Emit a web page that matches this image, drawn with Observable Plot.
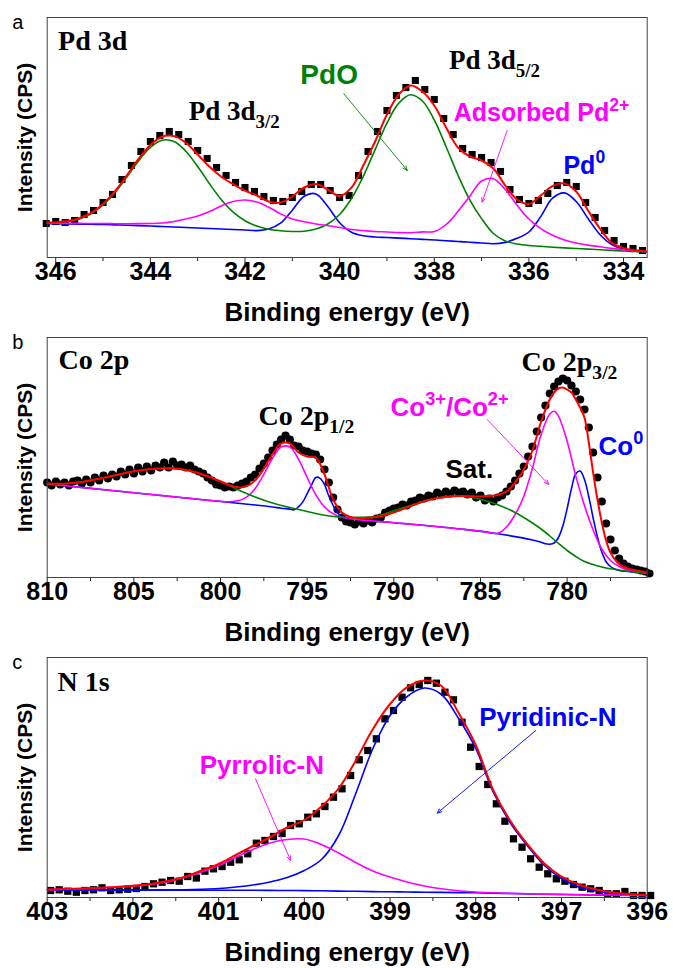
<!DOCTYPE html>
<html>
<head>
<meta charset="utf-8">
<script src="https://cdn.jsdelivr.net/npm/d3@7"></script>
<script src="https://cdn.jsdelivr.net/npm/@observablehq/plot@0.6"></script>
<style>
html,body{margin:0;padding:0;background:#fff;}
#chart{width:673px;}
#chart svg{display:block;}
</style>
</head>
<body>
<div id="chart"></div>
<script>
// ================= DATA =================
// ---- Panel a : Pd 3d  (binding energy, eV; intensity, a.u.) ----
const aCurveStart = 346.25, aCurveStep = 0.25;
const aPdO      = [34.3, 34.7, 35.9, 38.6, 43.8, 52.5, 64.8, 80.3, 96.6, 110.1, 117.3, 115.9, 106.3, 91, 73.7, 57.8, 45.4, 36.8, 31.4, 28.2, 26.7, 26, 26.2, 28.4, 33.5, 43, 59, 81.2, 107.9, 134.3, 154.4, 162.8, 156.5, 137.6, 110.8, 82.5, 57.7, 38.9, 24, 16.5, 13.5, 12, 11.2, 10.3, 9.6, 9, 8.4, 7.8, 7.1, 6.5, 6, 5.5];
const aAdsorbed = [34.5, 34.3, 34.1, 34.1, 34, 34, 33.8, 33.8, 33.9, 34, 34.5, 36, 38.5, 41.5, 46, 51.5, 56, 57.5, 55.4, 50.3, 43.6, 38.5, 35.7, 33.5, 31.8, 30, 28, 27, 26, 25.5, 24.9, 24.8, 25.6, 26, 33, 46, 61.3, 76.5, 78.8, 68, 52.3, 38.5, 28.9, 22.3, 17.6, 14.5, 12.4, 10.8, 9.1, 7.7, 6.8, 6];
const aPd0      = [34, 33.8, 33.6, 33.4, 33.2, 33, 32.6, 32.3, 31.9, 31.5, 31, 30.5, 30, 29.5, 29, 28.5, 28, 27.5, 26.9, 28.5, 34.3, 47.3, 61.3, 63.6, 50.9, 34.8, 25.3, 21.7, 20.5, 20, 19.4, 18.8, 18.1, 17.5, 16.8, 16, 15.3, 14.5, 13.8, 15.1, 19.2, 25.5, 40.9, 59.3, 64.6, 56, 39, 23, 12.9, 8.2, 6.4, 5.5];
const aEnvelope = [34.8, 35.2, 36.4, 39.3, 44.6, 53.5, 66, 81.8, 98.6, 112.6, 120.8, 121.4, 114.8, 103, 90.7, 80.8, 73.4, 66.8, 62, 56, 55, 61, 70, 73.5, 68, 61.5, 69.8, 92, 116, 143, 163, 172, 166, 152, 130, 110, 101, 97, 89, 72, 58, 53.5, 62, 71.3, 74, 66, 47, 29, 14.9, 9.4, 7.2, 6];
const aDataStart = 346.2, aDataStep = 0.2;
const aData = [34, 36, 35, 37, 43, 47, 55, 63, 78, 92, 106, 116, 122, 126, 123, 116, 107, 99, 90, 82, 75, 70, 66, 61, 57, 56, 60, 66, 73, 73, 67, 60, 62, 82, 106, 126, 147, 162, 170, 177, 168, 158, 139, 123, 109, 103, 100, 95, 86, 68, 58, 54, 57, 64, 72, 75, 71, 55, 40, 27, 17, 11, 9, 7];
const aTicks = [346, 344, 342, 340, 338, 336, 334];
const aMinorTicks = [345, 343, 341, 339, 337, 335];

// ---- Panel b : Co 2p ----
const bSatE = [810, 809, 808, 807, 806, 805, 804, 803, 802, 801, 800, 799, 798, 797, 796, 795, 794, 793, 792, 791, 790, 789, 788, 787, 786, 785, 784, 783, 782, 781.5, 781, 780.5, 780, 779.5, 779, 778.5, 778, 777.5, 777, 776.5, 776, 775.5, 775];
const bSat  = [94, 93.8, 95.5, 98.8, 102.5, 106.2, 108.5, 109.2, 107.5, 102.8, 96, 87.7, 80.5, 74.5, 70, 66, 62.3, 60.3, 60.2, 61.3, 66.8, 72.3, 77.7, 81, 81.2, 78.2, 72.8, 65, 54.5, 48.5, 41.5, 34, 27, 21, 16, 13, 10.5, 8.7, 7.5, 6.2, 5.5, 4.6, 4];
const bCo32E = [810, 808, 806, 804, 802, 800, 799.5, 799, 798.5, 798, 797.5, 797, 796.5, 796, 795.5, 795, 794.5, 794, 793.5, 793, 792, 790, 788, 786, 785, 784, 783.5, 783, 782.5, 782, 781.5, 781, 780.75, 780.5, 780, 779.5, 779, 778.5, 778, 777.5, 777, 776.5, 776, 775.5, 775];
const bCo32  = [93.5, 90, 86.5, 83, 79.5, 76.2, 75.8, 76.7, 80.4, 89.1, 103.1, 119.3, 130.5, 130.5, 118.4, 100, 82.7, 70.6, 63.7, 60.2, 57.8, 54.8, 51.7, 48.2, 46.2, 44.3, 50.4, 63, 81.3, 109.5, 143, 163.5, 166.2, 161.4, 136.3, 101.4, 72, 47.5, 28.5, 17, 11, 7.5, 5.8, 4.6, 4];
const bCo0E = [810, 806, 802, 798, 797, 796.5, 796, 795.75, 795.5, 795.25, 795, 794.75, 794.5, 794.25, 794, 793.75, 793.5, 793.25, 793, 792.5, 792, 790, 788, 786, 784, 782, 781.5, 781.25, 781, 780.75, 780.5, 780.25, 780, 779.75, 779.5, 779.25, 779, 778.75, 778.5, 778.25, 778, 777.75, 777.5, 777.25, 777, 776.5, 776, 775.5, 775];
const bCo0  = [93.5, 86.5, 79.5, 72.5, 70.5, 69.3, 68.4, 67.7, 70.7, 75.6, 83.8, 92.4, 100.1, 99.2, 93, 81.5, 72, 64.8, 61.1, 58.7, 57.7, 54.8, 51.7, 48.2, 43.8, 37.5, 35.2, 33.7, 33.3, 34.5, 40, 51.4, 68.9, 88.9, 103.7, 106.4, 98, 80.7, 59.5, 40.5, 25.5, 15.7, 11, 8.5, 7, 6, 5.3, 4.6, 4];
const bFitE = [810, 809, 808, 807, 806, 805, 804, 803, 802, 801, 800, 799.5, 799, 798.5, 798, 797.5, 797, 796.5, 796, 795.5, 795, 794.5, 794, 793.5, 793, 792.5, 792, 791, 790, 789, 788, 787, 786, 785, 784.5, 784, 783.5, 783, 782.5, 782, 781.5, 781, 780.75, 780.5, 780.25, 780, 779.75, 779.5, 779.25, 779, 778.75, 778.5, 778.25, 778, 777.75, 777.5, 777, 776.5, 776, 775.5, 775];
const bFit  = [94, 93.8, 95.5, 98.8, 102.5, 106.2, 108.5, 109.2, 107.5, 102.8, 96.2, 92.5, 90.2, 91.1, 97.1, 108.9, 123.3, 134, 134, 125, 121, 119.9, 103, 78, 65, 60.5, 59.5, 60.5, 65, 71.5, 77.5, 80.5, 81.5, 81, 81.5, 82.5, 86, 95, 108, 127, 156, 178, 185, 189, 190, 188, 185, 178, 170, 160, 135, 105, 78, 55, 37, 25, 13.5, 9, 7, 5.5, 4.5];
const bDataStart = 810, bDataStep = 0.25;
const bData = [95, 92, 96, 93, 95, 92, 96, 97, 94, 98, 95, 100, 97, 102, 99, 103, 101, 106, 103, 108, 104, 110, 106, 111, 107, 112, 110, 115, 110, 116, 112, 113, 110, 112, 108, 106, 104, 100, 97, 93, 92, 90, 91, 90, 92, 94, 96, 100, 103, 109, 114, 120, 127, 133, 138, 142, 138, 132, 131, 127, 126, 124, 123, 118, 108, 95, 80, 68, 60, 56, 55, 53, 56, 54, 57, 55, 59, 60, 65, 67, 69, 70, 73, 72, 76, 77, 80, 79, 82, 81, 85, 83, 86, 84, 87, 85, 86, 83, 85, 80, 82, 77, 79, 76, 80, 82, 86, 91, 97, 104, 111, 121, 131, 146, 160, 172, 184, 191, 196, 199, 197, 192, 186, 178, 168, 150, 125, 100, 76, 54, 38, 27, 19, 14, 11, 9, 8, 7, 6, 4];
const bTicks = [810, 805, 800, 795, 790, 785, 780];
const bMinorTicks = [807.5, 802.5, 797.5, 792.5, 787.5, 782.5, 777.5];

// ---- Panel c : N 1s ----
const cCurveStart = 403, cCurveStep = 0.2;
const cBackground = [7.7, 7.6, 7.6, 7.5, 7.5, 7.4, 7.4, 7.4, 7.3, 7.3, 7.3, 7.2, 7.2, 7.1, 7, 6.9, 6.7, 6.4, 6.2, 5.9, 5.7, 5.5, 5.3, 5.1, 4.9, 4.7, 4.3, 4, 3.6, 3.3, 3, 2.8, 2.5, 2.3, 2.1, 2];
const cPyridinic  = [7.7, 7.6, 7.6, 7.5, 7.5, 7.4, 7.4, 7.5, 7.7, 8.2, 9, 10.5, 12.5, 15.5, 20, 27, 38, 62, 104, 149, 182, 201, 209.5, 203, 179, 149, 106, 75, 52, 32, 19, 10.5, 6.5, 4, 2.8, 2];
const cPyrrolic   = [7.7, 8.2, 8.8, 9.5, 10.3, 11.3, 13, 15.5, 20, 25.5, 32, 40, 48, 54.5, 58, 58.5, 53, 44.5, 35, 26.5, 20.5, 15.5, 11.5, 8.7, 6.8, 5.5, 4.7, 4.1, 3.7, 3.4, 3.1, 2.9, 2.7, 2.5, 2.3, 2.1];
const cEnvelope   = [8, 8.4, 9, 9.7, 10.5, 11.7, 13.5, 16.5, 20.5, 27, 33.5, 42.5, 51.5, 60.5, 70, 77.5, 91, 109, 137, 168.5, 193.5, 210.3, 217, 211.5, 184.5, 152.5, 108, 77, 53.5, 34, 21, 13, 8, 5, 3.5, 2.5];
const cDataStart = 402.96, cDataStep = 0.1;
const cData = [7, 7.7, 6.3, 5.3, 7, 7.7, 9.7, 7, 7.7, 8.3, 9, 11, 13.7, 15.3, 17, 16.3, 21, 19.5, 26.3, 28.7, 31, 35.3, 37.7, 43.7, 54.3, 57, 61, 64, 72, 73.7, 80.3, 83.7, 91, 100.3, 108.7, 122, 137.7, 147, 158.7, 178.7, 187, 200.3, 209.7, 213, 217, 214.3, 205.3, 197.7, 175.3, 150.3, 131, 113, 93.7, 76.3, 58.7, 50.3, 38.7, 30.3, 23.7, 18.7, 16.3, 13, 10.3, 8.7, 7, 3.7, 3.7, 6, 2, 2, 2];
const cTicks = [403, 402, 401, 400, 399, 398, 397, 396];
const cMinorTicks = [402.5, 401.5, 400.5, 399.5, 398.5, 397.5, 396.5];

// ---- annotation texts (data coordinates) ----
const aTexts = ["Pd 3d", "Pd 3d_{3/2}", "Pd 3d_{5/2}", "PdO", "Adsorbed Pd^{2+}", "Pd^{0}"];
const aTextE = [345.95, 343.19, 337.69, 340.83, 337.59, 335.27];
const aTextI = [207.7, 137.7, 188.7, 174, 136.3, 83.7];
const aArrows = [[339.91, 163.7, 338.57, 87], [336.46, 127, 336.99, 55.3]];
const bTexts = ["Co 2p", "Co 2p_{1/2}", "Co 2p_{3/2}", "Co^{3+}/Co^{2+}", "Co^{0}", "Sat."];
const bTextE = [809.35, 797.81, 782.63, 790.19, 778.19, 787.02];
const bTextI = [208.7, 153, 207, 161.3, 123, 99.7];
const bArrows = [[784.61, 158, 781.06, 93]];
const cTexts = ["N 1s", "Pyrrolic-N", "Pyridinic-N"];
const cTextE = [402.88, 401.22, 397.96];
const cTextI = [207, 123.7, 172];
const cArrows = [[400.57, 118.7, 400.16, 37], [397.30, 167, 398.45, 84.3]];

// ================= STYLE =================
const SANS = "'Liberation Sans', Arial, Helvetica, sans-serif";
const SERIF = "'Liberation Serif', 'Times New Roman', Times, serif";
const RED = "#ff0000", GREEN = "#008000", MAGENTA = "#ff00ff", BLUE = "#0000ff";

function energies(start, step, n) {
  return Array.from({length: n}, (_, i) => Math.round((start - i * step) * 1000) / 1000);
}
function pts(xs, ys) { return ys.map((y, i) => ({x: xs[i], y})); }
function labels(texts, es, is, styles) {
  return texts.map((t, i) => ({t, x: es[i], y: is[i], ...styles[i]}));
}
function arrows(list, colors) {
  return list.map((a, i) => ({x1: a[0], y1: a[1], x2: a[2], y2: a[3], color: colors[i]}));
}

function richify(svg) {
  svg.querySelectorAll("text").forEach(t => {
    const s = t.textContent;
    if (!/[_^]\{/.test(s)) return;
    const fs = parseFloat(getComputedStyle(t).fontSize) || 20;
    while (t.firstChild) t.removeChild(t.firstChild);
    const re = /([_^])\{([^}]*)\}|([^_^]+)/g;
    let m, shift = 0;
    while ((m = re.exec(s))) {
      const ts = document.createElementNS("http://www.w3.org/2000/svg", "tspan");
      if (m[3] !== undefined) {
        ts.textContent = m[3];
        if (shift) { ts.setAttribute("dy", -shift); shift = 0; }
      } else {
        const d = m[1] === "_" ? fs * 0.3 : -fs * 0.42;
        ts.textContent = m[2];
        ts.setAttribute("font-size", (fs * 0.7).toFixed(1));
        ts.setAttribute("dy", (d - shift).toFixed(1));
        shift = d;
      }
      t.appendChild(ts);
    }
  });
}

function panel(cfg) {
  const height = cfg.height || 320;
  const marks = [];
  marks.push(Plot.dot(cfg.data, {x: "x", y: "y", symbol: cfg.symbol, r: cfg.r, fill: "#000", stroke: "none"}));
  for (const c of cfg.curves) {
    marks.push(Plot.line(c.data, {x: "x", y: "y", stroke: c.color, strokeWidth: c.width, curve: "catmull-rom", clip: true}));
  }
  for (const a of cfg.arrows) {
    marks.push(Plot.arrow([a], {x1: "x1", y1: "y1", x2: "x2", y2: "y2", stroke: a.color, strokeWidth: 0.9, headLength: 8, headAngle: 45, insetStart: 0, insetEnd: 0}));
  }
  for (const l of cfg.labels) {
    marks.push(Plot.text([l], {x: "x", y: "y", text: "t", textAnchor: "start", lineAnchor: "bottom",
      fontFamily: l.serif ? SERIF : SANS, fontWeight: "bold", fontSize: l.size, fill: l.color || "#000"}));
  }
  marks.push(Plot.axisX({ticks: cfg.minor, tickSize: 4, tickFormat: () => "", stroke: "#222", label: null}));
  marks.push(Plot.axisX({ticks: cfg.major, tickSize: 7, tickPadding: -2.5, tickFormat: d => String(d),
    fontSize: 25, fontWeight: "bold", fontFamily: SANS, stroke: "#222", label: null}));
  marks.push(Plot.text([cfg.letter], {frameAnchor: "top-left", dx: -35, dy: 11.5, lineAnchor: "bottom", textAnchor: "start",
    fontSize: 20, fontFamily: SANS, fill: "#000", text: d => d}));
  marks.push(Plot.text(["Intensity (CPS)"], {frameAnchor: "left", rotate: -90, dx: -15.5, lineAnchor: "bottom", textAnchor: "middle",
    fontSize: 21, fontWeight: "bold", fontFamily: SANS, fill: "#000", text: d => d}));
  marks.push(Plot.text(["Binding energy (eV)"], {frameAnchor: "bottom", dy: 63, lineAnchor: "bottom", textAnchor: "middle",
    fontSize: 26, fontWeight: "bold", fontFamily: SANS, fill: "#000", text: d => d}));
  marks.push(Plot.frame({stroke: "#444", strokeWidth: 1}));
  const svg = Plot.plot({
    width: 673, height,
    marginTop: 17, marginBottom: height - 257, marginLeft: 46.7, marginRight: 26.3,
    x: {domain: cfg.domain, label: null},
    y: {domain: [0, 240], axis: null},
    style: {fontFamily: SANS, color: "#000", background: "#fff", overflow: "visible"},
    marks
  });
  document.getElementById("chart").appendChild(svg);
  richify(svg);
}

// ---- Panel a ----
const aE = energies(aCurveStart, aCurveStep, aEnvelope.length);
panel({
  letter: "a", domain: [346.18, 333.5], major: aTicks, minor: aMinorTicks,
  data: pts(energies(aDataStart, aDataStep, aData.length), aData), symbol: "square", r: 4.0,
  curves: [
    {data: pts(aE, aPd0), color: BLUE, width: 1.6},
    {data: pts(aE, aPdO), color: GREEN, width: 1.6},
    {data: pts(aE, aAdsorbed), color: MAGENTA, width: 1.6},
    {data: pts(aE, aEnvelope), color: RED, width: 2}
  ],
  arrows: arrows(aArrows, [GREEN, MAGENTA]),
  labels: labels(aTexts, aTextE, aTextI, [
    {serif: true, size: 28}, {serif: true, size: 27}, {serif: true, size: 27},
    {size: 28, color: GREEN}, {size: 25, color: MAGENTA}, {size: 25, color: BLUE}
  ])
});

// ---- Panel b ----
panel({
  letter: "b", domain: [810, 775.38], major: bTicks, minor: bMinorTicks,
  data: pts(energies(bDataStart, bDataStep, bData.length), bData), symbol: "circle", r: 4.1,
  curves: [
    {data: pts(bCo0E, bCo0), color: BLUE, width: 1.6},
    {data: pts(bCo32E, bCo32), color: MAGENTA, width: 1.6},
    {data: pts(bSatE, bSat), color: GREEN, width: 1.6},
    {data: pts(bFitE, bFit), color: RED, width: 2}
  ],
  arrows: arrows(bArrows, [MAGENTA]),
  labels: labels(bTexts, bTextE, bTextI, [
    {serif: true, size: 28}, {serif: true, size: 28}, {serif: true, size: 28},
    {size: 26, color: MAGENTA}, {size: 26, color: BLUE}, {size: 26, color: "#000"}
  ])
});

// ---- Panel c ----
const cE = energies(cCurveStart, cCurveStep, cEnvelope.length);
panel({
  letter: "c", domain: [403, 396], major: cTicks, minor: cMinorTicks, height: 328,
  data: pts(energies(cDataStart, cDataStep, cData.length), cData), symbol: "square", r: 4.1,
  curves: [
    {data: pts(cE, cBackground), color: BLUE, width: 1.6},
    {data: pts(cE, cPyridinic), color: BLUE, width: 1.6},
    {data: pts(cE, cPyrrolic), color: MAGENTA, width: 1.6},
    {data: pts(cE, cEnvelope), color: RED, width: 2}
  ],
  arrows: arrows(cArrows, [MAGENTA, BLUE]),
  labels: labels(cTexts, cTextE, cTextI, [
    {serif: true, size: 28}, {size: 26, color: MAGENTA}, {size: 26, color: BLUE}
  ])
});
</script>
</body>
</html>
